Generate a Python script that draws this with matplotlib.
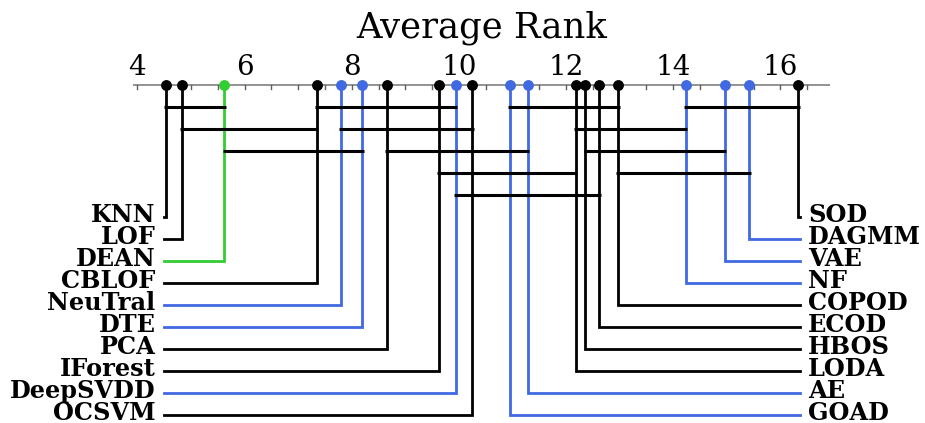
import matplotlib
matplotlib.use("Agg")
import matplotlib.pyplot as plt
import numpy as np

# Average ranks (lower is better), split by the side the label is drawn on
left_names = ["KNN", "LOF", "DEAN", "CBLOF", "NeuTral", "DTE", "PCA",
              "IForest", "DeepSVDD", "OCSVM"]
left_ranks = [4.53, 4.83, 5.62, 7.35, 7.80, 8.20, 8.65, 9.63, 9.94, 10.25]

right_names = ["SOD", "DAGMM", "VAE", "NF", "COPOD", "ECOD", "HBOS",
               "LODA", "AE", "GOAD"]
right_ranks = [16.33, 15.42, 14.96, 14.23, 12.97, 12.62, 12.36, 12.18,
               11.28, 10.95]

# Method families used for colouring
deep_methods = ["NeuTral", "DTE", "DeepSVDD", "GOAD", "AE", "NF", "VAE", "DAGMM"]
highlight_methods = ["DEAN"]

# Groups with no significant difference: (first, last, row)
cliques = [
    ("KNN", "DEAN", 0), ("CBLOF", "DeepSVDD", 0), ("GOAD", "COPOD", 0), ("NF", "SOD", 0),
    ("LOF", "CBLOF", 1), ("NeuTral", "OCSVM", 1), ("LODA", "NF", 1),
    ("DEAN", "DTE", 2), ("PCA", "AE", 2), ("HBOS", "VAE", 2),
    ("IForest", "LODA", 3), ("COPOD", "DAGMM", 3),
    ("DeepSVDD", "ECOD", 4),
]

tick_labels = [4, 6, 8, 10, 12, 14, 16]

BLACK = "#000000"
BLUE = "#4169E1"
GREEN = "#32CD32"


def color_of(name):
    if name in highlight_methods:
        return GREEN
    if name in deep_methods:
        return BLUE
    return BLACK


W, H = 925, 423
PX_PER_RANK = 53.6
X4 = 137.3  # pixel position of rank 4

fig = plt.figure(figsize=(W / 100, H / 100), dpi=100)
ax = fig.add_axes([0, 0, 1, 1])
ax.set_xlim(4 - X4 / PX_PER_RANK, 4 + (W - X4) / PX_PER_RANK)
ax.set_ylim(H, 0)
ax.axis("off")

serif = "DejaVu Serif"
axis_y = 85
row0_y = 216.7
row_step = 22.0
clique_y0 = 107.2
clique_step = 21.9
ext = 0.03

# Rank axis
ax.plot([3.92, 16.92], [axis_y, axis_y], color="#808080", lw=1.2, zorder=1,
        solid_capstyle="butt")
for t in np.arange(4, 16.51, 0.5):
    ax.plot([t, t], [axis_y, axis_y + 4], color="#606060", lw=1.0, zorder=1)
for t in tick_labels:
    ax.text(t, 75, str(t), ha="center", va="baseline", fontsize=20,
            family=serif)
ax.text((3.92 + 16.92) / 2, 37.5, "Average Rank", ha="center",
        va="baseline", fontsize=25.5, family=serif)

lo_x = min(left_ranks) - ext
hi_x = max(right_ranks) + ext
text_gap = 8.5 / PX_PER_RANK

# Connectors from each rank down to its label
for i, (name, r) in enumerate(zip(left_names, left_ranks)):
    y = row0_y + i * row_step
    c = color_of(name)
    ax.plot([r, r, lo_x], [axis_y, y, y], color=c, lw=2.0, zorder=2,
            solid_joinstyle="miter")
    ax.text(lo_x - text_gap, y - 2, name, ha="right", va="center",
            fontsize=17.3, fontweight="bold", family=serif)
    ax.plot(r, axis_y, "o", color=c, ms=6.8, zorder=5)

for i, (name, r) in enumerate(zip(right_names, right_ranks)):
    y = row0_y + i * row_step
    c = color_of(name)
    ax.plot([r, r, hi_x], [axis_y, y, y], color=c, lw=2.0, zorder=2,
            solid_joinstyle="miter")
    ax.text(hi_x + text_gap, y - 2, name, ha="left", va="center",
            fontsize=17.3, fontweight="bold", family=serif)
    ax.plot(r, axis_y, "o", color=c, ms=6.8, zorder=5)

# Clique bars
rank_of = dict(zip(left_names + right_names, left_ranks + right_ranks))
for a, b, row in cliques:
    ra, rb = sorted((rank_of[a], rank_of[b]))
    y = clique_y0 + row * clique_step
    ax.plot([ra - ext, rb + ext], [y, y], color=BLACK, lw=2.2, zorder=3,
            solid_capstyle="butt")

fig.savefig("out.png", dpi=100)
